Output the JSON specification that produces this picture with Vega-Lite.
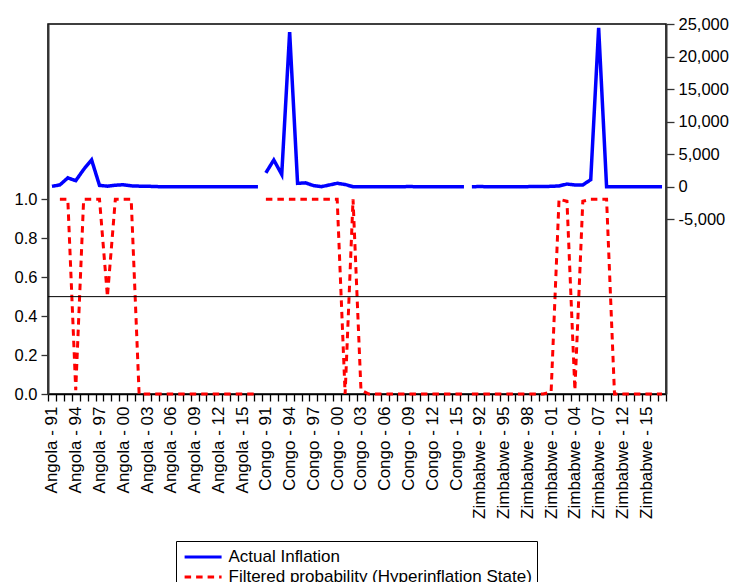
{
  "$schema": "https://vega.github.io/schema/vega-lite/v6.json",
  "width": 618,
  "height": 370,
  "autosize": "none",
  "padding": {"left": 48, "top": 24, "right": 66, "bottom": 188},
  "config": {
    "font": "Liberation Sans",
    "view": {"stroke": "#000", "strokeWidth": 1.5},
    "axis": {"labelFontSize": 16.5, "labelColor": "#000", "tickColor": "#333", "domainColor": "#333", "grid": false, "title": null, "labelFont": "Liberation Sans"}
  },
  "data": {"values": [
    {"label": "Angola - 91", "country": "Angola", "inflation": 85.3, "prob": null},
    {"label": "Angola - 92", "country": "Angola", "inflation": 299.1, "prob": 1.0},
    {"label": "Angola - 93", "country": "Angola", "inflation": 1379.5, "prob": 1.0},
    {"label": "Angola - 94", "country": "Angola", "inflation": 949.8, "prob": 0.02},
    {"label": "Angola - 95", "country": "Angola", "inflation": 2672.2, "prob": 1.0},
    {"label": "Angola - 96", "country": "Angola", "inflation": 4145.1, "prob": 1.0},
    {"label": "Angola - 97", "country": "Angola", "inflation": 221.5, "prob": 1.0},
    {"label": "Angola - 98", "country": "Angola", "inflation": 107.4, "prob": 0.5},
    {"label": "Angola - 99", "country": "Angola", "inflation": 248.2, "prob": 1.0},
    {"label": "Angola - 00", "country": "Angola", "inflation": 325.0, "prob": 1.0},
    {"label": "Angola - 01", "country": "Angola", "inflation": 152.6, "prob": 1.0},
    {"label": "Angola - 02", "country": "Angola", "inflation": 108.9, "prob": 0.0},
    {"label": "Angola - 03", "country": "Angola", "inflation": 98.2, "prob": 0.0},
    {"label": "Angola - 04", "country": "Angola", "inflation": 43.5, "prob": 0.0},
    {"label": "Angola - 05", "country": "Angola", "inflation": 23.0, "prob": 0.0},
    {"label": "Angola - 06", "country": "Angola", "inflation": 13.3, "prob": 0.0},
    {"label": "Angola - 07", "country": "Angola", "inflation": 12.2, "prob": 0.0},
    {"label": "Angola - 08", "country": "Angola", "inflation": 12.5, "prob": 0.0},
    {"label": "Angola - 09", "country": "Angola", "inflation": 13.7, "prob": 0.0},
    {"label": "Angola - 10", "country": "Angola", "inflation": 14.5, "prob": 0.0},
    {"label": "Angola - 11", "country": "Angola", "inflation": 13.5, "prob": 0.0},
    {"label": "Angola - 12", "country": "Angola", "inflation": 10.3, "prob": 0.0},
    {"label": "Angola - 13", "country": "Angola", "inflation": 8.8, "prob": 0.0},
    {"label": "Angola - 14", "country": "Angola", "inflation": 7.3, "prob": 0.0},
    {"label": "Angola - 15", "country": "Angola", "inflation": 9.2, "prob": 0.0},
    {"label": "Angola - 16", "country": "Angola", "inflation": 30.7, "prob": 0.0},
    {"label": "Angola - 17", "country": "Angola", "inflation": 29.8, "prob": 0.0},
    {"label": "Congo - 91", "country": "Congo", "inflation": 2154.4, "prob": 1.0},
    {"label": "Congo - 92", "country": "Congo", "inflation": 4129.2, "prob": 1.0},
    {"label": "Congo - 93", "country": "Congo", "inflation": 1893.1, "prob": 1.0},
    {"label": "Congo - 94", "country": "Congo", "inflation": 23773.1, "prob": 1.0},
    {"label": "Congo - 95", "country": "Congo", "inflation": 541.9, "prob": 1.0},
    {"label": "Congo - 96", "country": "Congo", "inflation": 616.8, "prob": 1.0},
    {"label": "Congo - 97", "country": "Congo", "inflation": 198.5, "prob": 1.0},
    {"label": "Congo - 98", "country": "Congo", "inflation": 29.1, "prob": 1.0},
    {"label": "Congo - 99", "country": "Congo", "inflation": 284.9, "prob": 1.0},
    {"label": "Congo - 00", "country": "Congo", "inflation": 550.0, "prob": 1.0},
    {"label": "Congo - 01", "country": "Congo", "inflation": 357.3, "prob": 0.0},
    {"label": "Congo - 02", "country": "Congo", "inflation": 25.3, "prob": 1.0},
    {"label": "Congo - 03", "country": "Congo", "inflation": 12.8, "prob": 0.02},
    {"label": "Congo - 04", "country": "Congo", "inflation": 4.0, "prob": 0.0},
    {"label": "Congo - 05", "country": "Congo", "inflation": 21.3, "prob": 0.0},
    {"label": "Congo - 06", "country": "Congo", "inflation": 13.2, "prob": 0.0},
    {"label": "Congo - 07", "country": "Congo", "inflation": 16.9, "prob": 0.0},
    {"label": "Congo - 08", "country": "Congo", "inflation": 17.3, "prob": 0.0},
    {"label": "Congo - 09", "country": "Congo", "inflation": 46.2, "prob": 0.0},
    {"label": "Congo - 10", "country": "Congo", "inflation": 23.5, "prob": 0.0},
    {"label": "Congo - 11", "country": "Congo", "inflation": 14.9, "prob": 0.0},
    {"label": "Congo - 12", "country": "Congo", "inflation": 0.9, "prob": 0.0},
    {"label": "Congo - 13", "country": "Congo", "inflation": 0.9, "prob": 0.0},
    {"label": "Congo - 14", "country": "Congo", "inflation": 1.2, "prob": 0.0},
    {"label": "Congo - 15", "country": "Congo", "inflation": 0.7, "prob": 0.0},
    {"label": "Congo - 16", "country": "Congo", "inflation": 3.2, "prob": 0.0},
    {"label": "Zimbabwe - 91", "country": "Zimbabwe", "inflation": 23.3, "prob": 0.0},
    {"label": "Zimbabwe - 92", "country": "Zimbabwe", "inflation": 42.1, "prob": 0.0},
    {"label": "Zimbabwe - 93", "country": "Zimbabwe", "inflation": 27.6, "prob": 0.0},
    {"label": "Zimbabwe - 94", "country": "Zimbabwe", "inflation": 22.3, "prob": 0.0},
    {"label": "Zimbabwe - 95", "country": "Zimbabwe", "inflation": 22.6, "prob": 0.0},
    {"label": "Zimbabwe - 96", "country": "Zimbabwe", "inflation": 21.4, "prob": 0.0},
    {"label": "Zimbabwe - 97", "country": "Zimbabwe", "inflation": 18.7, "prob": 0.0},
    {"label": "Zimbabwe - 98", "country": "Zimbabwe", "inflation": 31.8, "prob": 0.0},
    {"label": "Zimbabwe - 99", "country": "Zimbabwe", "inflation": 58.5, "prob": 0.0},
    {"label": "Zimbabwe - 00", "country": "Zimbabwe", "inflation": 55.9, "prob": 0.0},
    {"label": "Zimbabwe - 01", "country": "Zimbabwe", "inflation": 76.7, "prob": 0.01},
    {"label": "Zimbabwe - 02", "country": "Zimbabwe", "inflation": 140.1, "prob": 1.0},
    {"label": "Zimbabwe - 03", "country": "Zimbabwe", "inflation": 431.7, "prob": 0.99},
    {"label": "Zimbabwe - 04", "country": "Zimbabwe", "inflation": 282.4, "prob": 0.02},
    {"label": "Zimbabwe - 05", "country": "Zimbabwe", "inflation": 302.1, "prob": 0.99},
    {"label": "Zimbabwe - 06", "country": "Zimbabwe", "inflation": 1096.7, "prob": 1.0},
    {"label": "Zimbabwe - 07", "country": "Zimbabwe", "inflation": 24411.0, "prob": 1.0},
    {"label": "Zimbabwe - 10", "country": "Zimbabwe", "inflation": 3.0, "prob": 1.0},
    {"label": "Zimbabwe - 11", "country": "Zimbabwe", "inflation": 3.5, "prob": 0.0},
    {"label": "Zimbabwe - 12", "country": "Zimbabwe", "inflation": 3.7, "prob": 0.0},
    {"label": "Zimbabwe - 13", "country": "Zimbabwe", "inflation": 1.6, "prob": 0.0},
    {"label": "Zimbabwe - 14", "country": "Zimbabwe", "inflation": -0.2, "prob": 0.0},
    {"label": "Zimbabwe - 15", "country": "Zimbabwe", "inflation": -2.4, "prob": 0.0},
    {"label": "Zimbabwe - 16", "country": "Zimbabwe", "inflation": -1.6, "prob": 0.0},
    {"label": "Zimbabwe - 17", "country": "Zimbabwe", "inflation": 0.9, "prob": 0.0}
  ]},
  "layer": [
    {
      "layer": [
        {
          "mark": {"type": "line", "strokeWidth": 3},
          "encoding": {
            "x": {"field": "label", "type": "ordinal", "sort": null,
              "scale": {"type": "band", "paddingInner": 0, "paddingOuter": 0},
              "axis": {"title": null, "labelAngle": -90, "labelExpr": "indexof(domain('x'), datum.value) % 3 === 0 ? datum.value : ''", "tickBand": "extent", "tickSize": 7, "tickWidth": 1.3, "tickColor": "#000", "labelPadding": 5, "labelOverlap": false, "labelBound": false, "labelFontSize": 17, "domainColor": "#000", "domainWidth": 1.5}},
            "y": {"field": "prob", "type": "quantitative",
              "scale": {"domain": [0, 1.9], "nice": false, "zero": false},
              "axis": {"orient": "left", "values": [0, 0.2, 0.4, 0.6, 0.8, 1.0], "format": ".1f", "tickSize": 7, "tickWidth": 1.3, "labelPadding": 4, "domainWidth": 2, "title": null}},
            "detail": {"field": "country"},
            "color": {"datum": "Filtered probability (Hyperinflation State)",
              "scale": {"domain": ["Actual Inflation", "Filtered probability (Hyperinflation State)"], "range": ["#0000ff", "#ff0000"]},
              "legend": {"orient": "none", "legendX": 128, "legendY": 517, "title": null, "symbolType": "M-0.8,0H3.2", "symbolSize": 342, "symbolStrokeWidth": 3, "labelFontSize": 17, "labelFont": "Liberation Sans", "labelColor": "#000", "labelOffset": 25.5, "labelLimit": 500, "padding": 5, "strokeColor": "#000", "fillColor": "#fff", "rowPadding": 1, "cornerRadius": 0,
                "encode": {"symbols": {"update": {"strokeDash": {"signal": "datum.value === 'Actual Inflation' ? [1, 0] : [9, 4]"}}}}}},
            "strokeDash": {"datum": "Filtered probability (Hyperinflation State)",
              "scale": {"domain": ["Actual Inflation", "Filtered probability (Hyperinflation State)"], "range": [[1, 0], [6.5, 5]]},
              "legend": {"orient": "none", "legendX": 128, "legendY": 517, "title": null, "symbolType": "M-0.8,0H3.2", "symbolSize": 342, "symbolStrokeWidth": 3, "labelFontSize": 17, "labelFont": "Liberation Sans", "labelColor": "#000", "labelOffset": 25.5, "labelLimit": 500, "padding": 5, "strokeColor": "#000", "fillColor": "#fff", "rowPadding": 1, "cornerRadius": 0,
                "encode": {"symbols": {"update": {"strokeDash": {"signal": "datum.value === 'Actual Inflation' ? [1, 0] : [9, 4]"}}}}}}
          }
        },
        {
          "data": {"values": [{"threshold": 0.5}]},
          "mark": {"type": "rule", "color": "#000", "strokeWidth": 1},
          "encoding": {"y": {"field": "threshold", "type": "quantitative"}}
        }
      ]
    },
    {
      "mark": {"type": "line", "strokeWidth": 3.5},
      "encoding": {
        "x": {"field": "label", "type": "ordinal", "sort": null,
          "scale": {"type": "band", "paddingInner": 0, "paddingOuter": 0},
          "axis": {"title": null, "labelAngle": -90, "labelExpr": "indexof(domain('x'), datum.value) % 3 === 0 ? datum.value : ''", "tickBand": "extent", "tickSize": 7, "tickWidth": 1.3, "tickColor": "#000", "labelPadding": 5, "labelOverlap": false, "labelBound": false, "labelFontSize": 17, "domainColor": "#000", "domainWidth": 1.5}},
        "y": {"field": "inflation", "type": "quantitative",
          "scale": {"domain": [-31800, 25000], "nice": false, "zero": false},
          "axis": {"orient": "right", "values": [-5000, 0, 5000, 10000, 15000, 20000, 25000], "labelExpr": "replace(format(datum.value, ',.0f'), '\u2212', '-')", "tickSize": 8, "tickWidth": 1.3, "labelPadding": 4, "domainWidth": 2, "title": null}},
        "detail": {"field": "country"},
        "color": {"datum": "Actual Inflation"},
        "strokeDash": {"datum": "Actual Inflation"}
      }
    }
  ],
  "resolve": {"scale": {"y": "independent"}}
}
